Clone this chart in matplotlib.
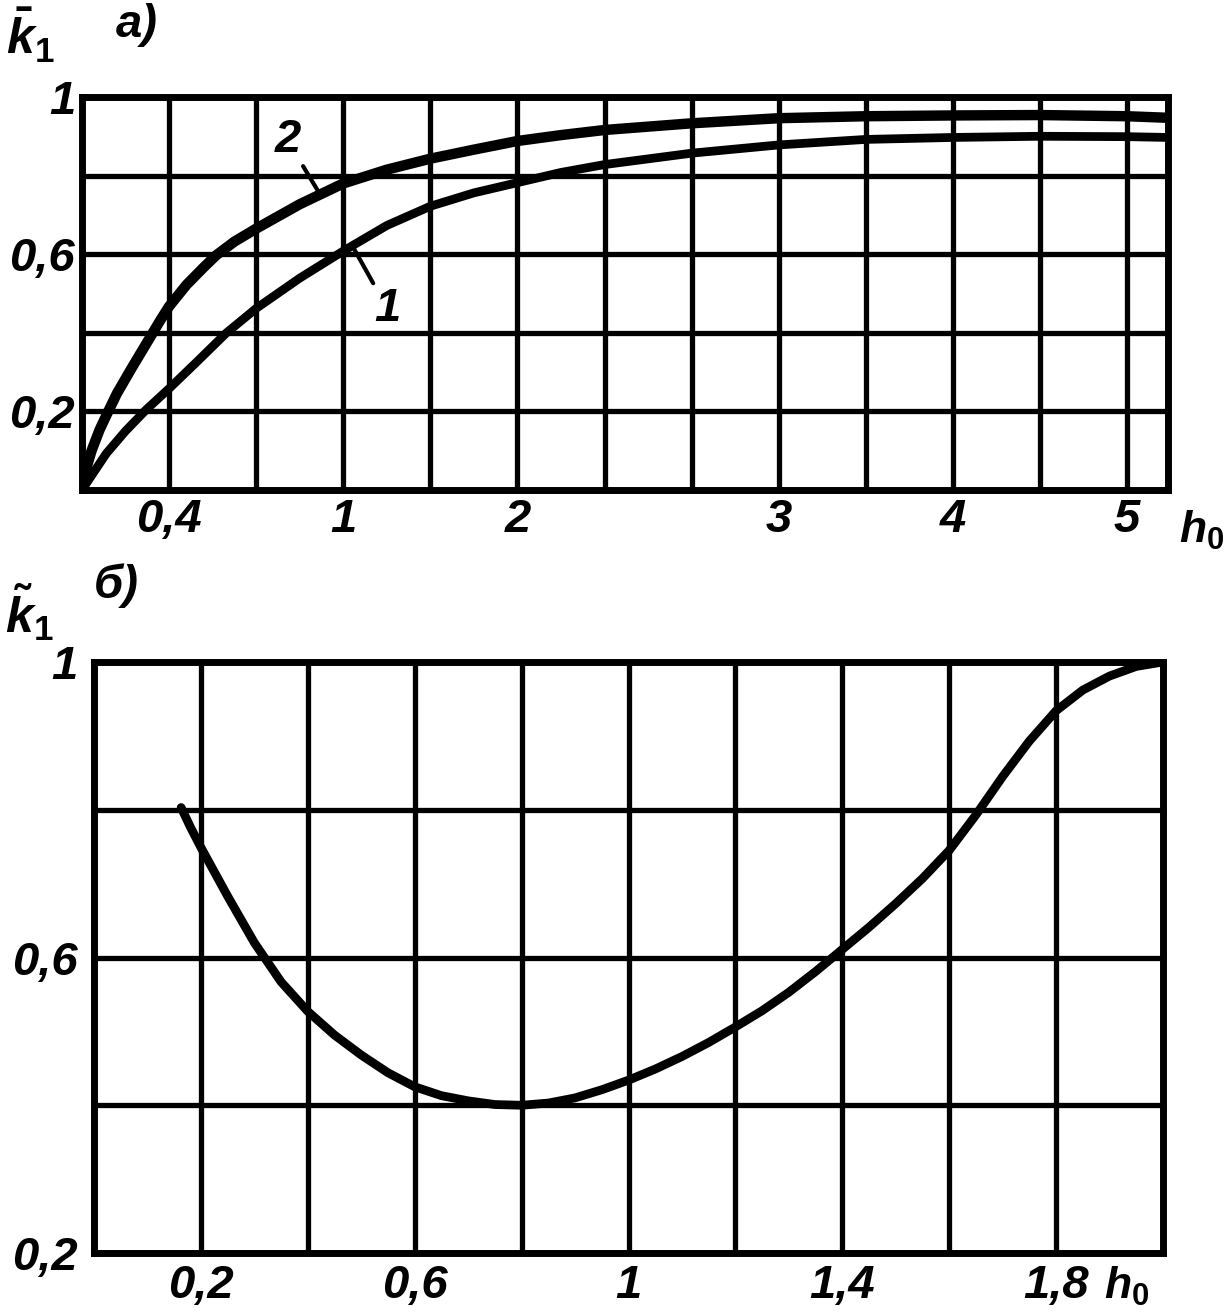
import numpy as np
import matplotlib
matplotlib.use("Agg")
import matplotlib.pyplot as plt

plt.rcParams['mathtext.fontset'] = 'custom'
plt.rcParams['mathtext.it'] = 'Liberation Sans:italic:bold'
plt.rcParams['mathtext.rm'] = 'Liberation Sans:bold'
plt.rcParams['mathtext.bf'] = 'Liberation Sans:bold'

# --- panel a): x axis is drawn on a non-uniform grid (grid index units)
a_tick_pos = [1, 3, 5, 8, 10, 12]
a_tick_lab = ['0,4', '1', '2', '3', '4', '5']
a_xmax = 12.47

c2_x = [0, 0.05, 0.11, 0.2, 0.28, 0.4, 0.57, 0.7, 0.8, 0.9, 1, 1.2, 1.4, 1.54, 1.75, 2, 2.5,
        3, 3.5, 4, 4.5, 5, 5.5, 6, 7, 8, 9, 10, 11, 12, 12.47]
c2_y = [0, 0.055, 0.1, 0.152, 0.19, 0.245, 0.31, 0.358, 0.395, 0.432, 0.467, 0.522, 0.567,
        0.597, 0.632, 0.665, 0.727, 0.78, 0.815, 0.843, 0.866, 0.888, 0.903, 0.916, 0.933,
        0.946, 0.951, 0.953, 0.954, 0.951, 0.947]

c1_x = [0, 0.15, 0.28, 0.5, 0.74, 1, 1.3, 1.66, 2, 2.5, 3, 3.5, 4, 4.5, 5, 5.5, 6, 7, 8, 9,
        10, 11, 12, 12.47]
c1_y = [0, 0.05, 0.093, 0.15, 0.205, 0.258, 0.322, 0.4, 0.462, 0.539, 0.608, 0.673, 0.722,
        0.756, 0.782, 0.808, 0.828, 0.857, 0.878, 0.892, 0.897, 0.9, 0.899, 0.897]

# --- panel б)
b_x = [0.163, 0.18, 0.2, 0.25, 0.3, 0.35, 0.4, 0.45, 0.5, 0.55, 0.6, 0.65, 0.7, 0.75, 0.8,
       0.85, 0.9, 0.95, 1.0, 1.05, 1.1, 1.15, 1.2, 1.25, 1.3, 1.35, 1.4, 1.45, 1.5, 1.55, 1.6,
       1.65, 1.7, 1.75, 1.8, 1.85, 1.9, 1.95, 2.0]
b_y = [0.803, 0.777, 0.749, 0.683, 0.62, 0.567, 0.527, 0.495, 0.468, 0.444, 0.425, 0.413,
       0.406, 0.401, 0.4, 0.403, 0.41, 0.421, 0.434, 0.449, 0.466, 0.485, 0.506, 0.528, 0.553,
       0.581, 0.611, 0.641, 0.673, 0.707, 0.745, 0.793, 0.845, 0.893, 0.934, 0.962, 0.981,
       0.994, 1.0]
b_tick_pos = [0.2, 0.6, 1.0, 1.4, 1.8]
b_tick_lab = ['0,2', '0,6', '1', '1,4', '1,8']

lab_font = dict(family=['Liberation Sans', 'DejaVu Sans'], style='italic',
                weight='bold', size=34)

fig = plt.figure(figsize=(12.29, 13.14), dpi=100)

def grid_frame(ax):
    for s in ax.spines.values():
        s.set_linewidth(5)
    ax.grid(True, color='black', lw=3.8)
    ax.tick_params(length=0)
    for lab in ax.get_xticklabels() + ax.get_yticklabels():
        lab.set(**lab_font)

# top panel
ax1 = fig.add_axes([0.0667, 0.6271, 0.8837, 0.2991])
ax1.plot(c2_x, c2_y, color='black', lw=7.5, solid_capstyle='round', solid_joinstyle='round')
ax1.plot(c1_x, c1_y, color='black', lw=6.3, solid_capstyle='round', solid_joinstyle='round')
ax1.set_xlim(0, a_xmax)
ax1.set_ylim(0, 1)
ax1.set_xticks(np.arange(1, 13))
ax1.set_xticklabels([a_tick_lab[a_tick_pos.index(i)] if i in a_tick_pos else '' for i in range(1, 13)])
ax1.set_yticks([0.2, 0.4, 0.6, 0.8, 1.0])
ax1.set_yticklabels(['0,2', '', '0,6', '', '1'])
ax1.tick_params(axis='x', pad=6)
ax1.tick_params(axis='y', pad=5)
grid_frame(ax1)
ax1.annotate('2', xy=(2.72, 0.757), xytext=(2.36, 0.89), ha='center', va='center',
             arrowprops=dict(arrowstyle='-', lw=3, color='black', shrinkA=1, shrinkB=0),
             **lab_font)
ax1.annotate('1', xy=(3.11, 0.619), xytext=(3.51, 0.46), ha='center', va='center',
             arrowprops=dict(arrowstyle='-', lw=3, color='black', shrinkA=1, shrinkB=0),
             **lab_font)
fig.text(0.025, 0.973, r'$\bar{k}_1$', fontsize=36, ha='center', va='center')
fig.text(0.111, 0.981, 'а)', ha='center', va='center', **lab_font)
fig.text(0.978, 0.596, r'$h_0$', fontsize=32, ha='center', va='center')

# bottom panel
ax2 = fig.add_axes([0.0765, 0.0464, 0.8698, 0.4498])
ax2.plot(b_x, b_y, color='black', lw=6.3, solid_capstyle='round', solid_joinstyle='round')
ax2.set_xlim(0, 2.0)
ax2.set_ylim(0.2, 1.0)
xt = np.round(np.arange(0.2, 2.0, 0.2), 1)
ax2.set_xticks(xt)
ax2.set_xticklabels([b_tick_lab[b_tick_pos.index(v)] if v in b_tick_pos else '' for v in xt])
ax2.set_yticks([0.2, 0.4, 0.6, 0.8, 1.0])
ax2.set_yticklabels(['0,2', '', '0,6', '', '1'])
ax2.tick_params(axis='x', pad=8)
ax2.tick_params(axis='y', pad=12)
grid_frame(ax2)
fig.text(0.024, 0.534, r'$\tilde{k}_1$', fontsize=36, ha='center', va='center')
fig.text(0.095, 0.554, 'б)', ha='center', va='center', **lab_font)
fig.text(0.917, 0.021, r'$h_0$', fontsize=32, ha='center', va='center')

fig.savefig('out.png', dpi=100, facecolor='white')
